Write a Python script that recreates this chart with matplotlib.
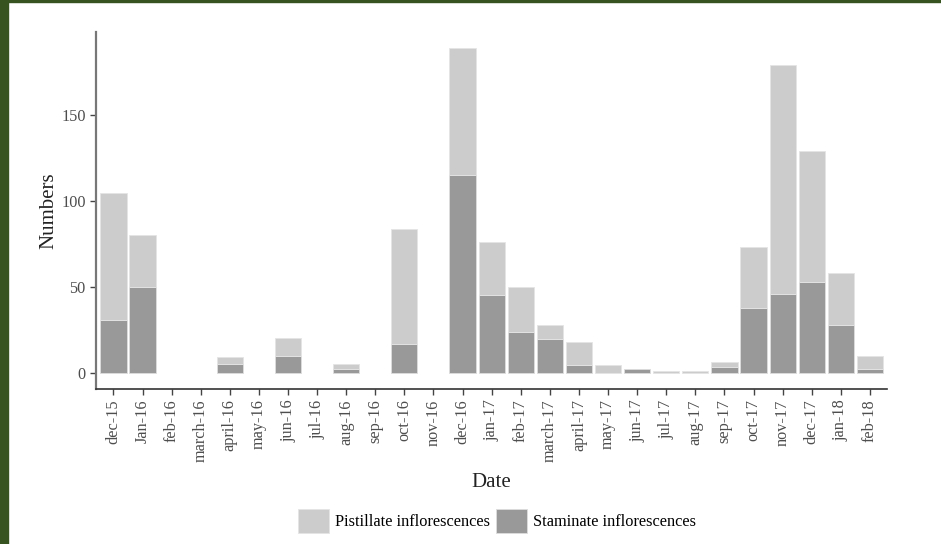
import matplotlib
import numpy as np
import matplotlib.pyplot as plt
from matplotlib.patches import Rectangle

matplotlib.use('Agg')

months = ['dec-15', 'Jan-16', 'feb-16', 'march-16', 'april-16', 'may-16', 'jun-16',
          'jul-16', 'aug-16', 'sep-16', 'oct-16', 'nov-16', 'dec-16', 'jan-17',
          'feb-17', 'march-17', 'april-17', 'may-17', 'jun-17', 'jul-17', 'aug-17',
          'sep-17', 'oct-17', 'nov-17', 'dec-17', 'jan-18', 'feb-18']
# totals
total = [105, 80, 0, 0, 9, 0, 20, 0, 5, 0, 84, 0, 189, 76,
         50, 28, 18, 4.5, 2, 1, 1, 6, 73, 179, 129, 58, 10]
staminate = [31, 50, 0, 0, 5, 0, 10, 0, 2, 0, 17, 0, 115, 45,
             24, 19.5, 4.7, 0, 2, 0, 0, 3.5, 38, 46, 53, 28, 2]
pistillate = [t - s for t, s in zip(total, staminate)]

plt.rcParams['font.family'] = ['Liberation Serif', 'DejaVu Serif']

fig = plt.figure(figsize=(9.41, 5.44), dpi=100)
ax = fig.add_axes([0.102, 0.285, 0.841, 0.656])

x = np.arange(len(months))
stam = np.array(staminate, dtype=float)
pist = np.array(pistillate, dtype=float)

# zero-height bars would still show their edge, so hide those edges
bars_s = ax.bar(x, stam, width=0.9, color='#999999', edgecolor='#dddddd', linewidth=0.6,
                label='Staminate inflorescences')
bars_p = ax.bar(x, pist, width=0.9, bottom=stam, color='#cccccc', edgecolor='#e4e4e4',
                linewidth=0.6, label='Pistillate inflorescences')
for b, v in zip(bars_s, stam):
    if v == 0:
        b.set_visible(False)
for b, v in zip(bars_p, pist):
    if v == 0:
        b.set_visible(False)

ax.set_xlim(-0.6, len(months) - 0.4)
ax.set_ylim(-9.45, 198.45)
ax.set_yticks([0, 50, 100, 150])
ax.set_xticks(x)
ax.set_xticklabels(months, rotation=90)
ax.tick_params(axis='both', colors='#444444', labelcolor='#4d4d4d', labelsize=11.7, length=4, width=1)

for side in ['top', 'right']:
    ax.spines[side].set_visible(False)
ax.spines['left'].set_color('#777777')
ax.spines['left'].set_linewidth(1.6)
ax.spines['bottom'].set_color('#333333')
ax.spines['bottom'].set_linewidth(1.2)

ax.set_xlabel('Date', fontsize=15, color='#222222')
ax.set_ylabel('Numbers', fontsize=15, color='#222222')
ax.xaxis.set_label_coords(0.5, -0.235)
ax.yaxis.set_label_coords(-0.048, 0.5)

handles, labels = ax.get_legend_handles_labels()
fig.legend(handles[::-1], labels[::-1], loc='center', bbox_to_anchor=(0.528, 0.042), ncol=2,
           frameon=False, fontsize=11.8, handlelength=1.9, handleheight=1.9,
           handletextpad=0.35, columnspacing=0.35)

# dark green frame of the source image
fig.patches.append(Rectangle((0, 0), 8 / 941, 1, transform=fig.transFigure,
                             color='#375420', zorder=10))
fig.patches.append(Rectangle((0, 1 - 2 / 544), 1, 2 / 544, transform=fig.transFigure,
                             color='#375420', zorder=10))

fig.savefig('out.png', dpi=100)
